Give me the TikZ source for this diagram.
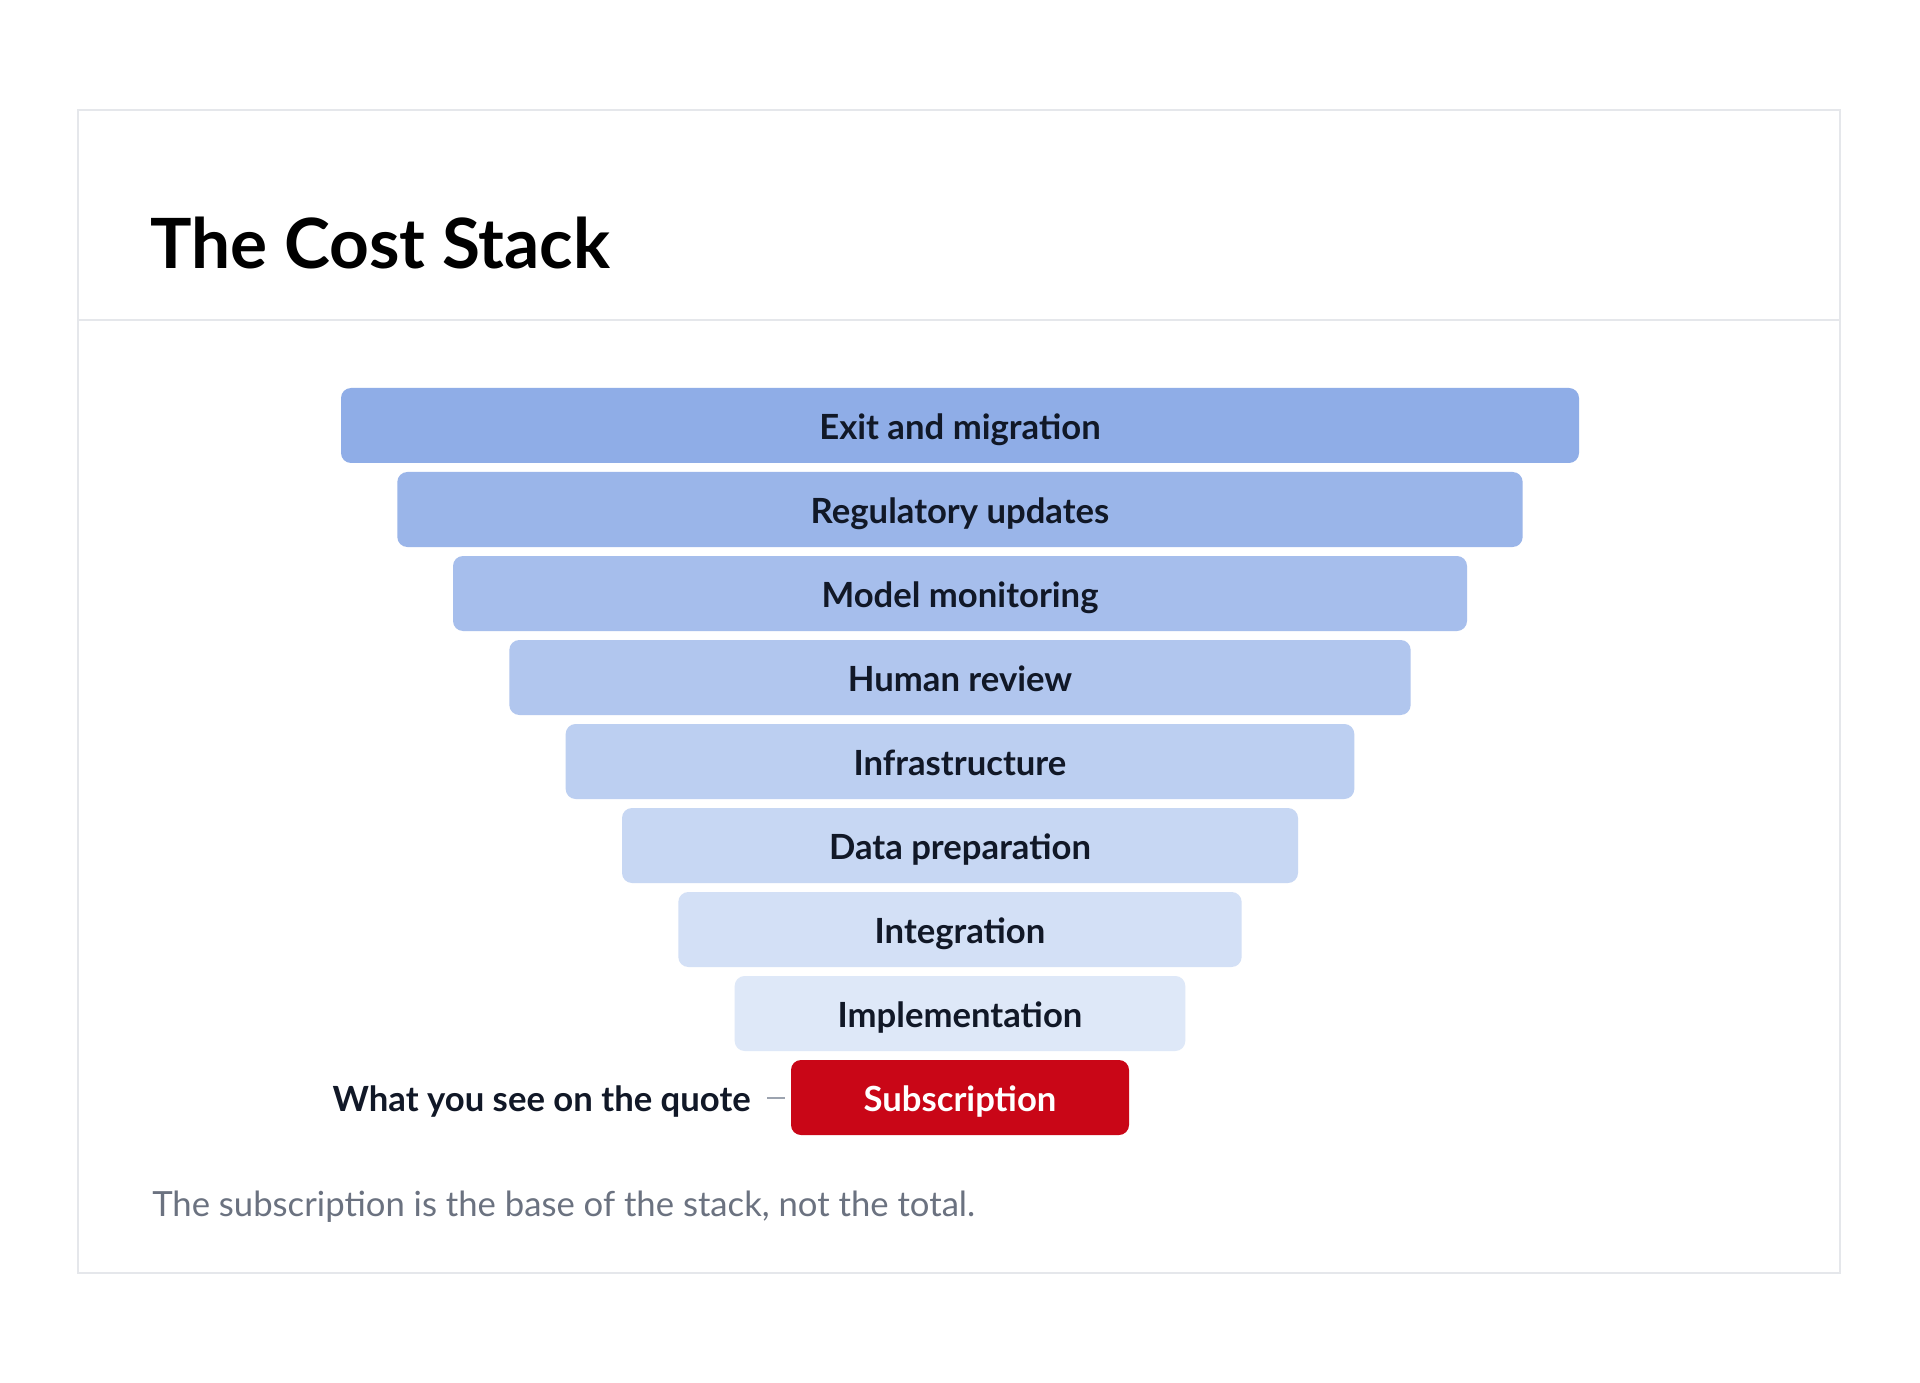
\documentclass[tikz,border=0pt]{standalone}
\usepackage{fontspec}
\setmainfont{Lato}
\usetikzlibrary{calc}
\definecolor{frame}{HTML}{E5E7EB}
\definecolor{inkc}{HTML}{111827}
\definecolor{notec}{HTML}{6B7280}
\definecolor{dashc}{HTML}{9CA3AF}
\definecolor{subred}{HTML}{C90617}
\definecolor{b0}{HTML}{8FADE7}
\definecolor{b1}{HTML}{9AB5E9}
\definecolor{b2}{HTML}{A6BEEC}
\definecolor{b3}{HTML}{B1C6EE}
\definecolor{b4}{HTML}{BCCFF1}
\definecolor{b5}{HTML}{C7D7F3}
\definecolor{b6}{HTML}{D3E0F6}
\definecolor{b7}{HTML}{DEE8F8}
\tikzset{
  layer/.style={rectangle, rounded corners=7.5pt, inner sep=0pt,
    minimum height=56.25pt, text height=21.5pt, text depth=0pt,
    font=\fontsize{26}{30}\selectfont\bfseries, text=inkc},
}
\begin{document}
\begin{tikzpicture}[x=0.75pt,y=-0.75pt]
\useasboundingbox (0,0) rectangle (1920,1383);
\fill[white] (0,0) rectangle (1920,1383);
\draw[frame, line width=1.5pt] (78,110) rectangle (1840,1273);
\draw[frame, line width=1.2pt] (78,320) -- (1840,320);
\node[anchor=base west, inner sep=0pt, font=\fontsize{52}{60}\selectfont\bfseries, text=black] (title) at (150,269) {The Cost Stack};

\node[layer, fill=b0, minimum width=928.5pt] (l0) at (960,425.5) {Exit and migration};
\node[layer, fill=b1, minimum width=844pt] (l1) at (960,509.5) {Regulatory updates};
\node[layer, fill=b2, minimum width=760.5pt] (l2) at (960,593.5) {Model monitoring};
\node[layer, fill=b3, minimum width=676pt] (l3) at (960,677.5) {Human review};
\node[layer, fill=b4, minimum width=591.5pt] (l4) at (960,761.5) {Infrastructure};
\node[layer, fill=b5, minimum width=507pt] (l5) at (960,845.5) {Data preparation};
\node[layer, fill=b6, minimum width=422.5pt] (l6) at (960,929.5) {Integration};
\node[layer, fill=b7, minimum width=338pt] (l7) at (960,1013.5) {Implementation};
\node[layer, fill=subred, text=white, minimum width=253.5pt] (sub) at (960,1097.5) {Subscription};

\coordinate (qx) at (751,0);
\node[anchor=base east, inner sep=0pt, font=\fontsize{26}{30}\selectfont\bfseries, text=inkc] (quote) at (sub.base -| qx) {What you see on the quote};
\draw[dashc, line width=1.5pt, shorten <=12pt, shorten >=4.5pt] (quote.east |- sub.center) -- (sub.west);

\node[anchor=base west, inner sep=0pt, font=\fontsize{26}{30}\selectfont, text=notec] (note) at (152,1216) {The subscription is the base of the stack, not the total.};
\end{tikzpicture}
\end{document}
